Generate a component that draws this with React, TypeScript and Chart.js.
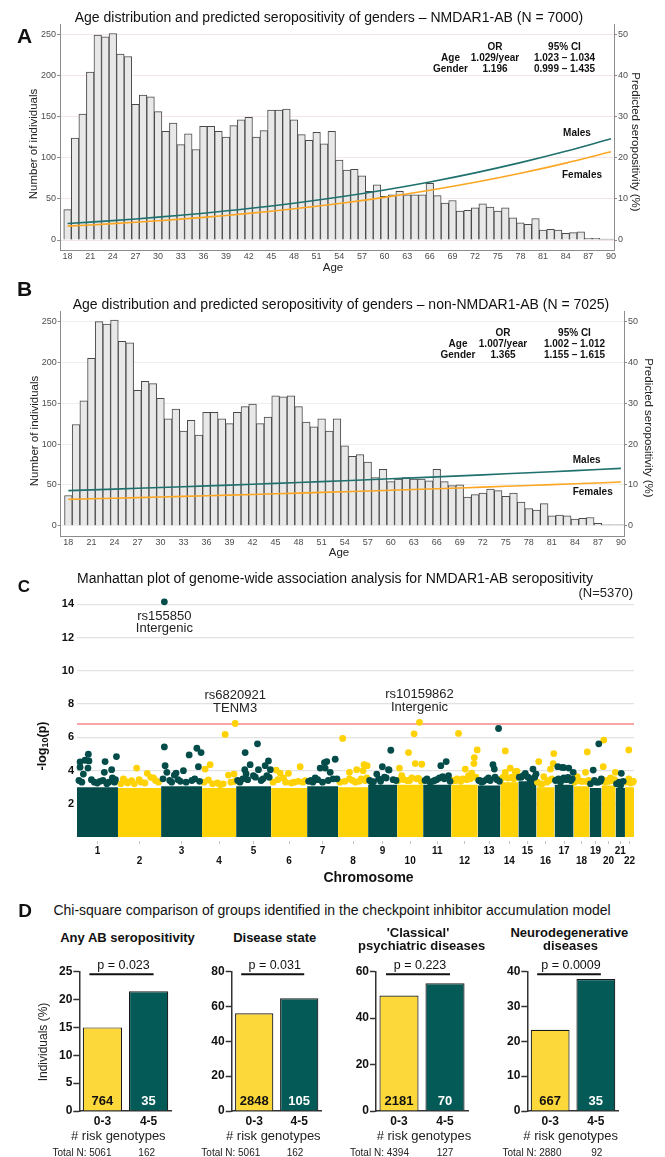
import React, { useEffect, useRef } from "react";
import { Chart, registerables } from "chart.js";

Chart.register(...registerables);

const FONT = "'Liberation Sans', Arial, Helvetica, sans-serif";
Chart.defaults.font.family = FONT;

// ---------------- Panels A & B : age histograms + predicted seropositivity ----------------
const ages = [18,19,20,21,22,23,24,25,26,27,28,29,30,31,32,33,34,35,36,37,38,39,40,41,42,43,44,45,46,47,48,49,50,51,52,53,54,55,56,57,58,59,60,61,62,63,64,65,66,67,68,69,70,71,72,73,74,75,76,77,78,79,80,81,82,83,84,85,86,87,88,89,90];
const ageTicks = [18,21,24,27,30,33,36,39,42,45,48,51,54,57,60,63,66,69,72,75,78,81,84,87,90];
const countsA = [37,124,153,204,249,247,251,226,223,165,176,174,156,132,142,116,129,110,138,138,132,125,139,146,149,125,133,158,158,159,146,128,121,131,117,132,97,85,86,78,59,67,53,55,59,55,55,55,69,54,45,48,35,36,39,44,40,35,39,27,21,19,26,12,13,12,8,9,10,2,2,1,1];
const countsB = [37,124,153,205,250,247,252,226,224,166,177,174,156,131,143,116,129,111,139,139,131,125,139,146,149,125,133,159,158,159,146,127,121,131,116,131,98,85,87,78,59,69,54,57,59,57,57,55,69,54,49,50,35,38,40,45,43,36,40,29,21,19,27,12,13,12,8,9,10,3,1,1,1];
const countTicks = [0,50,100,150,200,250];
const pctTicks = [0,10,20,30,40,50];
const curveAges = [18,24,30,36,42,48,54,60,66,72,78,84,90];
const malesA = [4.0,4.71,5.55,6.52,7.64,8.94,10.44,12.16,14.11,16.32,18.8,21.56,24.6];
const femalesA = [3.37,3.97,4.68,5.51,6.47,7.59,8.88,10.37,12.08,14.02,16.22,18.69,21.44];
const malesB = [8.6,8.97,9.35,9.75,10.16,10.59,11.03,11.49,11.97,12.46,12.97,13.5,14.05];
const femalesB = [6.45,6.73,7.03,7.33,7.65,7.98,8.33,8.69,9.06,9.45,9.85,10.26,10.69];
const orHeader = ["", "OR", "95% CI"];
const orTableA = [["Age", "1.029/year", "1.023 – 1.034"], ["Gender", "1.196", "0.999 – 1.435"]];
const orTableB = [["Age", "1.007/year", "1.002 – 1.012"], ["Gender", "1.365", "1.155 – 1.615"]];

// ---------------- Panel C : Manhattan plot ----------------
const chromNames = ["1","2","3","4","5","6","7","8","9","10","11","12","13","14","15","16","17","18","19","20","21","22"];
const chromLengths = [213,224,213,177,182,187,161,156,151,135,146,138,117,94,94,94,99,83,62,73,49,47];
const massHeight = [3.0,2.95,3.05,2.95,3.05,2.95,3.05,3.0,3.15,3.15,3.15,3.15,3.1,3.3,3.35,3.0,3.15,3.05,2.95,3.1,2.95,3.0];
const logpTicks = [2,4,6,8,10,12,14];
const gwsThreshold = 6.8;
// [chromosome, position within chromosome (Mb), -log10(p)]
const snps = [
  [1,16,4.52],[1,59,4.98],[1,42,4.62],[1,62,4.58],[1,146,4.54],[1,180,4.05],[1,205,4.84],[1,142,3.89],[1,57,4.15],[1,33,3.79],[1,184,3.55],[1,16,4.2],[1,10,3.4],[1,90,3.3],[1,120,3.35],[1,165,3.3],[1,200,3.45],
  [1,25,3.3],[1,75,3.45],[1,105,3.25],[1,135,3.4],[1,155,3.2],[1,195,3.3],
  [2,97,4.15],[2,152,3.83],[2,28,3.49],[2,184,3.55],[2,71,3.39],[2,170,3.59],[2,120,3.3],[2,50,3.25],[2,210,3.3],
  [2,15,3.2],[2,40,3.35],[2,85,3.2],[2,110,3.45],[2,140,3.25],[2,195,3.4],
  [3,17,14.15],[3,17,5.42],[3,21,4.29],[3,186,5.34],[3,208,5.08],[3,146,4.94],[3,116,3.99],[3,194,4.23],[3,78,3.85],[3,30,3.89],[3,69,3.73],[3,100,3.35],[3,160,3.4],[3,45,3.4],
  [3,10,3.5],[3,55,3.3],[3,88,3.45],[3,130,3.3],[3,175,3.5],[3,200,3.35],
  [4,42,4.35],[4,16,4.09],[4,172,6.83],[4,120,6.17],[4,137,3.73],[4,166,3.79],[4,33,3.43],[4,80,3.25],[4,110,3.2],
  [4,10,3.3],[4,55,3.2],[4,95,3.15],[4,150,3.3],[4,170,3.35],
  [5,47,5.08],[5,111,5.61],[5,73,4.35],[5,168,4.58],[5,151,4.29],[5,116,4.05],[5,45,4.05],[5,178,4.05],[5,90,3.69],[5,172,3.59],[5,52,3.8],[5,130,3.4],[5,20,3.3],
  [5,8,3.4],[5,35,3.5],[5,60,3.45],[5,100,3.6],[5,140,3.5],[5,160,3.7],
  [6,26,4.03],[6,151,4.23],[6,90,3.83],[6,64,3.55],[6,177,3.39],[6,47,3.85],[6,120,3.3],
  [6,10,3.3],[6,35,3.45],[6,75,3.3],[6,105,3.25],[6,140,3.35],[6,165,3.3],
  [7,146,4.68],[7,102,4.54],[7,68,4.15],[7,94,4.15],[7,42,3.55],[7,120,3.89],[7,90,4.48],[7,20,3.4],[7,155,3.5],
  [7,8,3.35],[7,30,3.3],[7,55,3.45],[7,80,3.3],[7,110,3.4],[7,135,3.5],
  [8,24,5.93],[8,59,3.89],[8,97,4.05],[8,135,4.35],[8,130,3.99],[8,151,4.29],[8,59,3.49],[8,149,3.55],[8,10,3.3],[8,110,3.35],
  [8,35,3.35],[8,75,3.4],[8,90,3.3],[8,120,3.5],[8,140,3.4],
  [9,74,4.23],[9,118,5.22],[9,109,4.03],[9,45,3.79],[9,19,3.29],[9,94,3.55],[9,106,4.05],[9,28,3.33],
  [9,8,3.4],[9,55,3.5],[9,65,3.35],[9,85,3.6],[9,130,3.45],[9,145,3.4],
  [10,12,4.15],[10,59,5.08],[10,88,6.21],[10,116,6.9],[10,94,4.42],[10,128,4.38],[10,24,3.69],[10,76,3.55],[10,53,3.39],[10,111,3.53],
  [10,5,3.4],[10,35,3.45],[10,65,3.4],[10,100,3.5],[10,125,3.35],
  [11,120,4.54],[11,92,4.29],[11,132,3.69],[11,85,3.55],[11,36,3.29],[11,102,3.63],[11,60,3.4],
  [11,10,3.4],[11,20,3.5],[11,50,3.35],[11,70,3.45],[11,110,3.5],[11,140,3.35],
  [12,38,6.23],[12,135,5.24],[12,120,4.78],[12,118,4.42],[12,73,4.09],[12,30,3.49],[12,90,3.69],[12,107,3.85],[12,21,3.39],
  [12,8,3.4],[12,50,3.35],[12,60,3.5],[12,80,3.45],[12,100,3.5],[12,128,3.6],
  [13,108,6.53],[13,79,4.35],[13,86,4.09],[13,56,3.55],[13,13,3.39],[13,30,3.35],[13,100,3.45],
  [13,5,3.4],[13,20,3.3],[13,45,3.45],[13,65,3.4],[13,90,3.6],[13,112,3.35],
  [14,26,5.18],[14,52,4.15],[14,26,3.89],[14,87,3.95],[14,78,3.93],[14,60,3.6],
  [14,5,3.5],[14,15,3.6],[14,40,3.55],[14,70,3.5],[14,90,3.6],
  [15,76,4.09],[15,36,3.83],[15,62,3.39],[15,92,3.79],[15,15,3.6],
  [15,5,3.6],[15,25,3.7],[15,50,3.6],[15,70,3.5],[15,85,3.6],
  [16,12,4.54],[16,90,5.02],[16,87,4.42],[16,73,4.09],[16,38,3.63],[16,21,3.19],
  [16,5,3.3],[16,30,3.2],[16,55,3.3],[16,65,3.4],[16,80,3.5],
  [17,17,4.23],[17,48,4.18],[17,74,4.15],[17,97,3.89],[17,48,3.55],[17,40,4.19],[17,70,3.59],[17,31,3.29],
  [17,5,3.4],[17,20,3.5],[17,60,3.45],[17,85,3.4],[17,92,3.5],
  [18,71,5.12],[18,19,3.63],[18,62,3.89],[18,71,3.33],[18,40,3.35],
  [18,5,3.3],[18,28,3.4],[18,50,3.35],[18,78,3.4],
  [19,48,5.61],[19,19,4.03],[19,61,3.49],[19,35,3.3],
  [19,5,3.2],[19,25,3.4],[19,45,3.3],[19,56,3.35],
  [20,12,5.83],[20,9,4.23],[20,47,3.55],[20,72,3.89],[20,30,3.4],
  [20,5,3.45],[20,20,3.3],[20,40,3.35],[20,58,3.4],[20,68,3.45],
  [21,30,3.83],[21,26,3.1],[21,10,3.2],
  [21,5,3.2],[21,20,3.3],[21,40,3.35],
  [22,20,5.24],[22,20,3.49],[22,40,3.3],
  [22,8,3.3],[22,30,3.25],[22,44,3.35],
];
const snpLabels = [
  { chr: 3, pos: 17, logp: 14.15, id: "rs155850", gene: "Intergenic", below: true },
  { chr: 4, pos: 172, logp: 6.83, id: "rs6820921", gene: "TENM3", below: false },
  { chr: 10, pos: 116, logp: 6.9, id: "rs10159862", gene: "Intergenic", below: false },
];

// ---------------- Panel D : chi-square bar charts ----------------
const riskGroups = ["0-3", "4-5"];
const dTitles = [["Any AB seropositivity"], ["Disease state"], ["'Classical'", "psychiatric diseases"], ["Neurodegenerative", "diseases"]];
const dPctLow = [15.0, 56.1, 49.7, 23.3];
const dPctHigh = [21.5, 64.7, 55.0, 37.9];
const dCountLow = [764, 2848, 2181, 667];
const dCountHigh = [35, 105, 70, 35];
const dTotalLow = [5061, 5061, 4394, 2880];
const dTotalHigh = [162, 162, 127, 92];
const dPValues = ["0.023", "0.031", "0.223", "0.0009"];
const dYMax = [25, 80, 60, 40];
const dYStep = [5, 20, 20, 10];

// ---------------- colours ----------------
const TEAL_LINE = "#1f716e";
const ORANGE_LINE = "#fca622";
const M_TEAL = "#034c4a";
const M_YEL = "#fed204";
const D_YEL = "#fdd83a";
const D_TEAL = "#035a57";

const chromStarts = chromLengths.map((_, i) => chromLengths.slice(0, i).reduce((a, b) => a + b, 0));
const genomeTotal = chromLengths.reduce((a, b) => a + b, 0);
const chromCenters = chromLengths.map((l, i) => chromStarts[i] + l / 2);

function histConfig(counts, males, females, g) {
  return {
    type: "bar",
    data: {
      datasets: [
        { type: "line", data: curveAges.map((a, i) => ({ x: a, y: males[i] })), yAxisID: "y1", borderColor: TEAL_LINE, borderWidth: 1.6, pointRadius: 0, tension: 0.4, order: 0 },
        { type: "line", data: curveAges.map((a, i) => ({ x: a, y: females[i] })), yAxisID: "y1", borderColor: ORANGE_LINE, borderWidth: 1.6, pointRadius: 0, tension: 0.4, order: 1 },
        { type: "bar", data: ages.map((a, i) => ({ x: a, y: counts[i] })), yAxisID: "y", backgroundColor: "#e8e8e8", borderColor: "#4a4a4a", borderWidth: 1, barPercentage: 1, categoryPercentage: 1, order: 2 },
      ],
    },
    options: {
      animation: false,
      responsive: false,
      layout: { padding: { top: g.T - g.top, left: 0, right: 0, bottom: 0 } },
      plugins: { legend: { display: false }, tooltip: { enabled: false } },
      scales: {
        x: {
          type: "linear", min: 17, max: 90.4, offset: false,
          afterFit: (s) => { s.height = g.top + g.h - g.B; },
          afterBuildTicks: (s) => { s.ticks = ageTicks.map((v) => ({ value: v })); },
          grid: { display: false, drawTicks: false, offset: false },
          border: { color: "#8c8c8c", width: 1 },
          ticks: { autoSkip: false, maxRotation: 0, padding: 1.5, color: "#4d4d4d", font: { size: 9, lineHeight: 1 } },
        },
        y: {
          position: "left", min: g.yMin, max: g.yMax,
          afterFit: (s) => { s.width = g.L; },
          afterBuildTicks: (s) => { s.ticks = countTicks.map((v) => ({ value: v })); },
          grid: { color: g.grid, lineWidth: 1, tickColor: "#8c8c8c", tickLength: 3 },
          border: { color: "#8c8c8c" },
          ticks: { padding: 1, color: "#4d4d4d", font: { size: 9 } },
        },
        y1: {
          position: "right", min: g.y1Min, max: g.y1Max,
          afterFit: (s) => { s.width = 665 - g.R; },
          afterBuildTicks: (s) => { s.ticks = pctTicks.map((v) => ({ value: v })); },
          grid: { drawOnChartArea: false, tickColor: "#8c8c8c", tickLength: 3 },
          border: { color: "#8c8c8c" },
          ticks: { padding: 1, color: "#4d4d4d", font: { size: 9 } },
        },
      },
    },
  };
}

const snpLabelPlugin = {
  id: "snpLabels",
  afterDatasetsDraw(chart) {
    const { ctx } = chart;
    const x = chart.scales.x, y = chart.scales.y;
    ctx.save();
    ctx.font = `13px ${FONT}`;
    ctx.fillStyle = "#222";
    ctx.textAlign = "center";
    ctx.textBaseline = "middle";
    snpLabels.forEach((it) => {
      const px = x.getPixelForValue(chromStarts[it.chr - 1] + it.pos);
      const py = y.getPixelForValue(it.logp);
      const d = it.below ? [14.2, 26.9] : [-28.3, -15.2];
      ctx.fillText(it.id, px, py + d[0]);
      ctx.fillText(it.gene, px, py + d[1]);
    });
    ctx.restore();
  },
};

function manhattanConfig() {
  const mass = chromLengths.map((len, i) => ({
    type: "line",
    data: [{ x: chromStarts[i], y: massHeight[i] }, { x: chromStarts[i] + len, y: massHeight[i] }],
    fill: "origin", backgroundColor: i % 2 === 0 ? M_TEAL : M_YEL, borderWidth: 0, borderColor: "rgba(0,0,0,0)",
    pointRadius: 0, tension: 0, order: 3,
  }));
  const threshold = {
    type: "line",
    data: [{ x: 0, y: gwsThreshold }, { x: genomeTotal, y: gwsThreshold }],
    borderColor: "#f7a6a6", borderWidth: 2, pointRadius: 0, fill: false, order: 2,
  };
  const pts = (odd) => snps.filter((s) => (s[0] % 2 === 1) === odd).map((s) => ({ x: chromStarts[s[0] - 1] + s[1], y: s[2] }));
  const dotsTeal = { type: "scatter", data: pts(true), pointRadius: 3.4, pointBackgroundColor: M_TEAL, pointBorderWidth: 0, backgroundColor: M_TEAL, order: 1 };
  const dotsYel = { type: "scatter", data: pts(false), pointRadius: 3.4, pointBackgroundColor: M_YEL, pointBorderWidth: 0, backgroundColor: M_YEL, order: 1 };
  return {
    type: "scatter",
    data: { datasets: [...mass, threshold, dotsTeal, dotsYel] },
    options: {
      animation: false,
      responsive: false,
      clip: false,
      layout: { padding: { top: 7, right: 31, left: 0, bottom: 0 } },
      plugins: { legend: { display: false }, tooltip: { enabled: false } },
      scales: {
        x: {
          type: "linear", min: 0, max: genomeTotal,
          afterFit: (s) => { s.height = 29; },
          afterBuildTicks: (s) => { s.ticks = chromCenters.map((v) => ({ value: v })); },
          grid: { display: true, drawOnChartArea: false, tickLength: 3, tickColor: "#c4c4c4" },
          border: { display: false },
          ticks: {
            autoSkip: false, maxRotation: 0, padding: 2, color: "#111",
            font: { size: 10, weight: "bold", lineHeight: 1 },
            callback: (v, i) => (i % 2 === 0 ? [chromNames[i]] : ["", chromNames[i]]),
          },
        },
        y: {
          type: "linear", min: -0.238, max: 14.583,
          afterFit: (s) => { s.width = 77; },
          afterBuildTicks: (s) => { s.ticks = logpTicks.map((v) => ({ value: v })); },
          grid: { color: "#e2e2e2", lineWidth: 1.2, drawTicks: false },
          border: { display: false },
          ticks: { padding: 3, color: "#111", font: { size: 11, weight: "bold" } },
        },
      },
    },
    plugins: [snpLabelPlugin],
  };
}

const dGeo = [
  { left: 0, w: 180, axisX: 79.3, right: 171.7 },
  { left: 180, w: 150, axisX: 231.7, right: 321.7 },
  { left: 330, w: 150, axisX: 376, right: 468 },
  { left: 480, w: 160, axisX: 527.3, right: 618.7 },
];
const D_TOP = 955, D_H = 175, D_T = 971.7, D_B = 1111;

function dConfig(i) {
  const g = dGeo[i];
  const annot = {
    id: "dAnnot" + i,
    afterDatasetsDraw(chart) {
      const ctx = chart.ctx;
      const meta = chart.getDatasetMeta(0);
      const b0 = meta.data[0], b1 = meta.data[1];
      const ca = chart.chartArea;
      ctx.save();
      ctx.textAlign = "center";
      ctx.textBaseline = "middle";
      ctx.font = `bold 13px ${FONT}`;
      ctx.fillStyle = "#111";
      ctx.fillText(String(dCountLow[i]), b0.x, ca.bottom - 9.5);
      ctx.fillStyle = "#ffffff";
      ctx.fillText(String(dCountHigh[i]), b1.x, ca.bottom - 9.5);
      const y = ca.top + 2.6;
      const x0 = b0.x - 13, x1 = b1.x + 5;
      ctx.strokeStyle = "#111";
      ctx.lineWidth = 2;
      ctx.beginPath();
      ctx.moveTo(x0, y);
      ctx.lineTo(x1, y);
      ctx.stroke();
      ctx.font = `12.5px ${FONT}`;
      ctx.fillStyle = "#111";
      ctx.fillText("p = " + dPValues[i], (x0 + x1) / 2 + 2, y - 8.8);
      ctx.restore();
    },
  };
  return {
    type: "bar",
    data: {
      labels: riskGroups,
      datasets: [{ data: [dPctLow[i], dPctHigh[i]], backgroundColor: [D_YEL, D_TEAL], borderColor: "#1a1a1a", borderWidth: 1.2, barPercentage: 0.85, categoryPercentage: 1 }],
    },
    options: {
      animation: false,
      responsive: false,
      layout: { padding: { top: D_T - D_TOP, right: g.left + g.w - g.right, left: 0, bottom: 0 } },
      plugins: { legend: { display: false }, tooltip: { enabled: false } },
      scales: {
        x: {
          afterFit: (s) => { s.height = D_TOP + D_H - D_B; },
          grid: { display: false, drawTicks: false },
          border: { color: "#333", width: 1.5 },
          ticks: { padding: 3.5, color: "#111", font: { size: 12, weight: "bold" } },
        },
        y: {
          min: 0, max: dYMax[i],
          afterFit: (s) => { s.width = g.axisX - g.left; },
          grid: { drawOnChartArea: false, tickLength: 6, tickColor: "#333", tickWidth: 1.5 },
          border: { color: "#333", width: 1.5 },
          ticks: { stepSize: dYStep[i], padding: 1, color: "#111", font: { size: 12, weight: "bold" } },
        },
      },
    },
    plugins: [annot],
  };
}

const Txt = ({ x, y, s, b, r, c, al, children }) => {
  let tr = al === "r" ? "translate(-100%,-50%)" : al === "l" ? "translate(0,-50%)" : "translate(-50%,-50%)";
  if (r) tr += ` rotate(${r}deg)`;
  return (
    <div style={{ position: "absolute", left: x, top: y, transform: tr, fontSize: s, fontWeight: b ? "bold" : "normal", color: c || "#111", whiteSpace: "nowrap", lineHeight: 1, fontFamily: FONT }}>
      {children}
    </div>
  );
};

const histTable = (rows, cols, ys) => (
  <>
    {orHeader.map((h, j) => (h ? <Txt key={"h" + j} x={cols[j]} y={ys[0]} s={10} b>{h}</Txt> : null))}
    {rows.map((row, ri) => row.map((cell, j) => <Txt key={ri + "-" + j} x={cols[j]} y={ys[ri + 1]} s={10} b>{cell}</Txt>))}
  </>
);

export default function App() {
  const refA = useRef(null);
  const refB = useRef(null);
  const refC = useRef(null);
  const refD0 = useRef(null);
  const refD1 = useRef(null);
  const refD2 = useRef(null);
  const refD3 = useRef(null);
  const dRefs = [refD0, refD1, refD2, refD3];

  useEffect(() => {
    const charts = [];
    charts.push(new Chart(refA.current, histConfig(countsA, malesA, femalesA, { top: 0, h: 280, L: 60, R: 614, T: 24, B: 250.7, yMin: -13, yMax: 262.5, y1Min: -2.6, y1Max: 52.5, grid: "#f4e6e6" })));
    charts.push(new Chart(refB.current, histConfig(countsB, malesB, femalesB, { top: 285, h: 280, L: 60.7, R: 624, T: 311, B: 536.7, yMin: -13.5, yMax: 263.1, y1Min: -2.7, y1Max: 52.62, grid: "#efefef" })));
    charts.push(new Chart(refC.current, manhattanConfig()));
    dRefs.forEach((r, i) => charts.push(new Chart(r.current, dConfig(i))));
    return () => charts.forEach((c) => c.destroy());
  }, []);

  return (
    <div style={{ position: "absolute", left: 0, top: 0, width: 665, height: 1157, background: "#fff", overflow: "hidden", fontFamily: FONT }}>
      <canvas ref={refA} width={665} height={280} style={{ position: "absolute", left: 0, top: 0, width: 665, height: 280 }} />
      <canvas ref={refB} width={665} height={280} style={{ position: "absolute", left: 0, top: 285, width: 665, height: 280 }} />
      <canvas ref={refC} width={665} height={285} style={{ position: "absolute", left: 0, top: 585, width: 665, height: 285 }} />
      {dGeo.map((g, i) => (
        <canvas key={i} ref={dRefs[i]} width={g.w} height={D_H} style={{ position: "absolute", left: g.left, top: D_TOP, width: g.w, height: D_H }} />
      ))}

      {/* Panel A */}
      <Txt x={24.5} y={34.5} s={21} b>A</Txt>
      <Txt x={329} y={16.7} s={14}>Age distribution and predicted seropositivity of genders – NMDAR1-AB (N = 7000)</Txt>
      <Txt x={34} y={144} s={11.5} r={-90} c="#222">Number of individuals</Txt>
      <Txt x={635} y={141.7} s={11.5} r={90} c="#222">Predicted seropositivity (%)</Txt>
      <Txt x={333} y={267.5} s={11.5} c="#222">Age</Txt>
      {histTable(orTableA, [450.5, 495, 564.5], [47, 58, 69])}
      <Txt x={577} y={132.7} s={10} b>Males</Txt>
      <Txt x={582} y={175} s={10} b>Females</Txt>

      {/* Panel B */}
      <Txt x={24.5} y={288} s={21} b>B</Txt>
      <Txt x={341} y={304} s={14}>Age distribution and predicted seropositivity of genders – non-NMDAR1-AB (N = 7025)</Txt>
      <Txt x={35} y={431} s={11.5} r={-90} c="#222">Number of individuals</Txt>
      <Txt x={648} y={428} s={11.5} r={90} c="#222">Predicted seropositivity (%)</Txt>
      <Txt x={339} y={552.7} s={11.5} c="#222">Age</Txt>
      {histTable(orTableB, [458, 503, 574.5], [333.3, 344.3, 355])}
      <Txt x={586.7} y={460} s={10} b>Males</Txt>
      <Txt x={592.7} y={492.3} s={10} b>Females</Txt>

      {/* Panel C */}
      <Txt x={24} y={586} s={17} b>C</Txt>
      <Txt x={335} y={578.3} s={14}>Manhattan plot of genome-wide association analysis for NMDAR1-AB seropositivity</Txt>
      <Txt x={633} y={591.7} s={13} al="r" c="#222">(N=5370)</Txt>
      <Txt x={41.7} y={746} s={12.5} b r={-90}>-log<sub style={{ fontSize: "0.72em", verticalAlign: "-0.25em", lineHeight: 0 }}>10</sub>(p)</Txt>
      <Txt x={368.5} y={877} s={14} b>Chromosome</Txt>

      {/* Panel D */}
      <Txt x={25} y={910} s={19} b>D</Txt>
      <Txt x={332} y={910} s={14}>Chi-square comparison of groups identified in the checkpoint inhibitor accumulation model</Txt>
      <Txt x={127.5} y={937} s={13} b>{dTitles[0][0]}</Txt>
      <Txt x={274.7} y={937} s={13} b>{dTitles[1][0]}</Txt>
      <Txt x={418} y={931.7} s={13} b>{dTitles[2][0]}</Txt>
      <Txt x={421.7} y={945} s={13} b>{dTitles[2][1]}</Txt>
      <Txt x={569.3} y={931.7} s={13} b>{dTitles[3][0]}</Txt>
      <Txt x={570.5} y={945} s={13} b>{dTitles[3][1]}</Txt>
      <Txt x={43.3} y={1041.7} s={12} r={-90} c="#222">Individuals (%)</Txt>
      {[118.3, 273.3, 424, 570.7].map((x, i) => (
        <Txt key={"rg" + i} x={x} y={1135} s={13} c="#222"># risk genotypes</Txt>
      ))}
      {[82, 230.8, 379.5, 532].map((x, i) => (
        <Txt key={"tl" + i} x={x} y={1152.7} s={10} c="#222">Total N: {dTotalLow[i]}</Txt>
      ))}
      {[146.7, 295, 445, 596.7].map((x, i) => (
        <Txt key={"th" + i} x={x} y={1152.7} s={10} c="#222">{dTotalHigh[i]}</Txt>
      ))}
    </div>
  );
}
